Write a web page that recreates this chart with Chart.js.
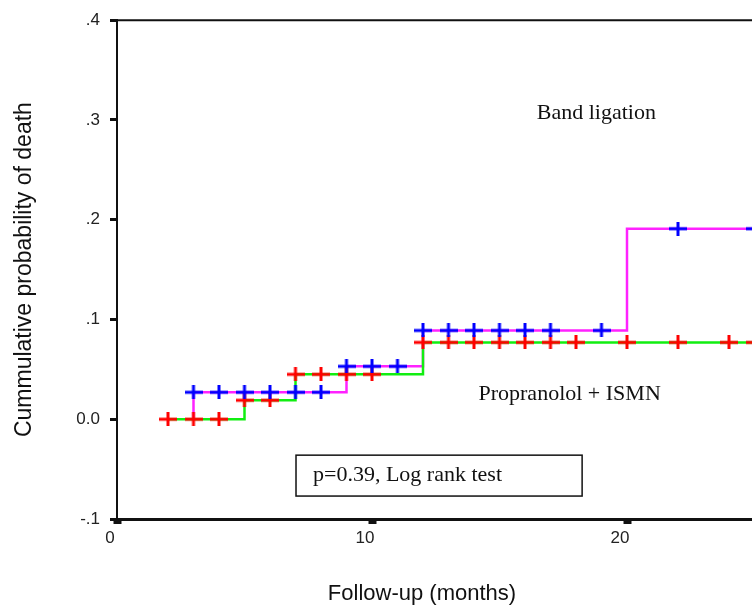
<!DOCTYPE html>
<html>
<head>
<meta charset="utf-8">
<script src="https://cdn.jsdelivr.net/npm/chart.js@4.4.0/dist/chart.umd.min.js"></script>
<style>
  html, body { margin: 0; padding: 0; background: #fff; overflow: hidden; }
  #wrap { width: 900px; height: 605px; }
</style>
</head>
<body>
<div id="wrap"><canvas id="km" width="900" height="605"></canvas></div>
<script>
// ── Data ──────────────────────────────────────────────────────────────────────
// step curves (months, cumulative probability)
const bandStepMonths = [3, 3, 9, 12, 20, 30];
const bandStepProb   = [0, 0.027, 0.053, 0.089, 0.191, 0.191];
const propStepMonths = [2, 5, 7, 12, 30];
const propStepProb   = [0, 0.019, 0.045, 0.077, 0.077];

// censored observations (crosses)
const bandCensorMonths = [3, 4, 5, 6, 7, 8, 9, 10, 11, 12, 13, 14, 15, 16, 17, 19, 22, 25];
const bandCensorProb   = [0.027, 0.027, 0.027, 0.027, 0.027, 0.027,
                          0.053, 0.053, 0.053,
                          0.089, 0.089, 0.089, 0.089, 0.089, 0.089, 0.089,
                          0.191, 0.191];
const propCensorMonths = [2, 3, 4, 5, 6, 7, 8, 9, 10, 12, 13, 14, 15, 16, 17, 18, 20, 22, 24, 25];
const propCensorProb   = [0, 0, 0,
                          0.019, 0.019,
                          0.045, 0.045, 0.045, 0.045,
                          0.077, 0.077, 0.077, 0.077, 0.077, 0.077, 0.077, 0.077, 0.077, 0.077, 0.077];

const yTickLabels = ['-.1', '0.0', '.1', '.2', '.3', '.4'];
const groupNames  = ['Band ligation', 'Propranolol + ISMN'];
const testText    = 'p=0.39, Log rank test';
const xTitle      = 'Follow-up (months)';
const yTitle      = 'Cummulative probability of death';

// ── Helpers ───────────────────────────────────────────────────────────────────
const pts = (xs, ys) => xs.map((x, i) => ({ x, y: ys[i] }));

function crossImg(color) {
    const c = document.createElement('canvas');
    c.width = 18; c.height = 14;
    const g = c.getContext('2d');
    g.fillStyle = color;
    g.fillRect(0, 5.5, 18, 3);
    g.fillRect(7.5, 0, 3, 14);
    return c;
}

const SANS  = "'Liberation Sans', Arial, sans-serif";
const SERIF = "'Liberation Serif', 'Times New Roman', serif";

// ── Texts, frame top line ─────────────────────────────────────────────────────
const annotate = {
    id: 'annotate',
    afterDraw(chart) {
        const { ctx, chartArea: a, scales: { x, y } } = chart;
        ctx.save();

        // top frame line
        ctx.strokeStyle = '#111';
        ctx.lineWidth = 2;
        ctx.beginPath();
        ctx.moveTo(a.left, a.top);
        ctx.lineTo(a.right, a.top);
        ctx.stroke();

        ctx.fillStyle = '#111';
        ctx.textBaseline = 'middle';
        ctx.textAlign = 'center';
        ctx.font = `22px ${SERIF}`;
        ctx.fillText(groupNames[0], x.getPixelForValue(18.8), y.getPixelForValue(0.307));
        ctx.fillText(groupNames[1], x.getPixelForValue(17.75), y.getPixelForValue(0.025));

        // log rank box
        const bx0 = x.getPixelForValue(7.02), bx1 = x.getPixelForValue(18.24);
        const by0 = y.getPixelForValue(-0.036), by1 = y.getPixelForValue(-0.077);
        ctx.lineWidth = 1.5;
        ctx.strokeRect(bx0, by0, bx1 - bx0, by1 - by0);
        ctx.textAlign = 'left';
        ctx.fillText(testText, bx0 + 17, (by0 + by1) / 2);

        // x axis title
        ctx.textAlign = 'center';
        ctx.font = `22px ${SANS}`;
        ctx.fillText(xTitle, 422, 594);
        ctx.restore();
    }
};

// ── Chart ─────────────────────────────────────────────────────────────────────
new Chart(document.getElementById('km').getContext('2d'), {
    type: 'scatter',
    data: {
        datasets: [
            {
                label: groupNames[0] + ' censored',
                data: pts(bandCensorMonths, bandCensorProb),
                pointStyle: crossImg('#0000ff'),
                pointRadius: 6,
                showLine: false,
                order: 0,
            },
            {
                label: groupNames[1] + ' censored',
                data: pts(propCensorMonths, propCensorProb),
                pointStyle: crossImg('#ff0000'),
                pointRadius: 6,
                showLine: false,
                order: 0,
            },
            {
                type: 'line',
                label: groupNames[0],
                data: pts(bandStepMonths, bandStepProb),
                borderColor: '#ff22ff',
                borderWidth: 2.5,
                stepped: 'before',
                pointRadius: 0,
                fill: false,
                order: 2,
            },
            {
                type: 'line',
                label: groupNames[1],
                data: pts(propStepMonths, propStepProb),
                borderColor: '#11ee11',
                borderWidth: 2.5,
                stepped: 'before',
                pointRadius: 0,
                fill: false,
                order: 1,
            },
        ],
    },
    options: {
        responsive: false,
        animation: false,
        devicePixelRatio: 1,
        layout: { padding: { top: 18, right: 18, left: 0, bottom: 0 } },
        plugins: { legend: { display: false }, tooltip: { enabled: false } },
        scales: {
            x: {
                type: 'linear',
                min: 0,
                max: 30,
                afterFit: s => { s.height = 86; },
                ticks: {
                    stepSize: 10,
                    padding: 4,
                    labelOffset: -7,
                    color: '#222',
                    font: { family: SANS, size: 17 },
                    callback: v => String(v),
                },
                grid: { drawOnChartArea: false, drawTicks: true, tickLength: 5, tickWidth: 8, tickColor: '#111' },
                border: { display: true, color: '#111', width: 3 },
            },
            y: {
                min: -0.1,
                max: 0.4,
                afterFit: s => { s.width = 117; },
                ticks: {
                    stepSize: 0.1,
                    padding: 10,
                    color: '#222',
                    font: { family: SANS, size: 17 },
                    callback: v => yTickLabels[Math.round((v + 0.1) * 10)],
                },
                grid: { drawOnChartArea: false, drawTicks: true, tickLength: 7, tickWidth: 3, tickColor: '#111' },
                border: { display: true, color: '#111', width: 2 },
                title: {
                    display: true,
                    text: yTitle,
                    color: '#111',
                    font: { family: SANS, size: 23 },
                    padding: { top: 11, bottom: 0 },
                },
            },
        },
    },
    plugins: [annotate],
});
</script>
</body>
</html>
